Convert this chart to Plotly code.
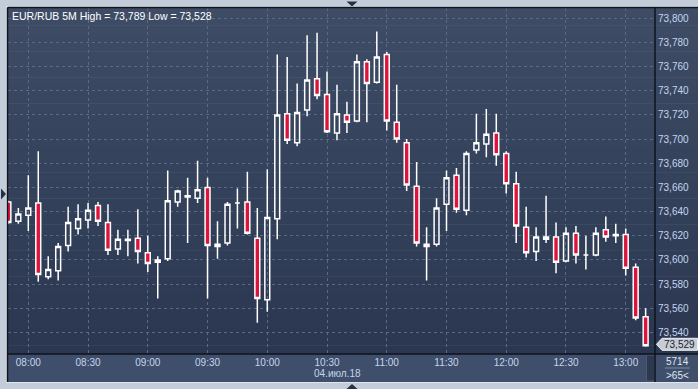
import pandas as pd
import plotly.graph_objects as go

# ---- data (EUR/RUB 5M, 04.07.2018) ----
times = pd.date_range("2018-07-04 07:50", "2018-07-04 13:10", freq="5min")
opens = [73.648, 73.632, 73.637, 73.647, 73.586, 73.591, 73.612, 73.626, 73.633, 73.645,
         73.631, 73.609, 73.616, 73.618, 73.606, 73.598, 73.601, 73.648, 73.652, 73.651,
         73.660, 73.611, 73.614, 73.647, 73.648, 73.618, 73.567, 73.634, 73.721, 73.697,
         73.724, 73.750, 73.737, 73.705, 73.720, 73.715, 73.764, 73.747, 73.770, 73.714,
         73.697, 73.661, 73.613, 73.613, 73.646, 73.670, 73.641, 73.691, 73.696, 73.705,
         73.688, 73.663, 73.627, 73.607, 73.619, 73.619, 73.599, 73.622, 73.604, 73.604,
         73.625, 73.621, 73.621, 73.594, 73.553]
highs = [73.649, 73.643, 73.670, 73.690, 73.603, 73.614, 73.644, 73.646, 73.647, 73.648,
         73.646, 73.625, 73.625, 73.642, 73.620, 73.603, 73.674, 73.658, 73.668, 73.682,
         73.668, 73.632, 73.648, 73.659, 73.673, 73.643, 73.675, 73.770, 73.768, 73.746,
         73.786, 73.788, 73.756, 73.745, 73.731, 73.770, 73.766, 73.789, 73.772, 73.745,
         73.700, 73.681, 73.627, 73.651, 73.674, 73.676, 73.690, 73.721, 73.725, 73.721,
         73.690, 73.673, 73.644, 73.627, 73.653, 73.631, 73.627, 73.628, 73.620, 73.627,
         73.636, 73.630, 73.626, 73.597, 73.560]
lows = [73.630, 73.630, 73.624, 73.582, 73.584, 73.583, 73.607, 73.621, 73.626, 73.628,
        73.604, 73.604, 73.603, 73.597, 73.590, 73.568, 73.599, 73.644, 73.614, 73.647,
        73.568, 73.601, 73.612, 73.626, 73.621, 73.548, 73.557, 73.617, 73.696, 73.694,
        73.719, 73.733, 73.705, 73.699, 73.705, 73.714, 73.714, 73.746, 73.707, 73.697,
        73.657, 73.611, 73.583, 73.611, 73.624, 73.639, 73.637, 73.688, 73.685, 73.678,
        73.655, 73.614, 73.602, 73.599, 73.614, 73.589, 73.598, 73.597, 73.592, 73.603,
        73.615, 73.614, 73.587, 73.550, 73.528]
closes = [73.631, 73.638, 73.643, 73.588, 73.592, 73.611, 73.631, 73.634, 73.641, 73.632,
          73.608, 73.617, 73.617, 73.607, 73.597, 73.600, 73.649, 73.657, 73.653, 73.658,
          73.612, 73.613, 73.646, 73.647, 73.622, 73.568, 73.635, 73.720, 73.699, 73.722,
          73.749, 73.736, 73.706, 73.721, 73.714, 73.764, 73.746, 73.768, 73.715, 73.700,
          73.662, 73.614, 73.611, 73.643, 73.668, 73.642, 73.688, 73.697, 73.704, 73.687,
          73.663, 73.628, 73.606, 73.619, 73.617, 73.598, 73.622, 73.604, 73.604, 73.622,
          73.619, 73.620, 73.593, 73.552, 73.529]
y_ticks = [73.54, 73.56, 73.58, 73.60, 73.62, 73.64, 73.66, 73.68, 73.70, 73.72, 73.74, 73.76, 73.78, 73.80]
title_text = "EUR/RUB 5M High = 73,789 Low = 73,528"
date_text = "04.июл.18"
last_price = "73,529"
counter_top, counter_bottom = "5714", ">65<"

# ---- geometry helpers (pixel -> paper) ----
W, H = 698, 389
L, R, T, B = 8, 43, 8, 35
PW, PH = W - L - R, H - T - B


def px(x):
    return (x - L) / PW


def py(y):
    return (H - B - y) / PH


shapes = []
# gradient background of chart + price panel
n = 40
top_c, bot_c = (62, 76, 102), (43, 55, 81)
for i in range(n):
    y0 = 8 + (354 - 8) * i / n
    y1 = 8 + (354 - 8) * (i + 1) / n
    t = (i + 0.5) / n
    c = tuple(round(top_c[k] + (bot_c[k] - top_c[k]) * t) for k in range(3))
    shapes.append(dict(type="rect", xref="paper", yref="paper", layer="below",
                       x0=px(8), x1=px(699), y0=py(y1 + 0.5), y1=py(y0),
                       fillcolor="rgb(%d,%d,%d)" % c, line=dict(width=0)))
# time axis panel
shapes.append(dict(type="rect", xref="paper", yref="paper", layer="below",
                   x0=px(8), x1=px(699), y0=py(382), y1=py(354),
                   fillcolor="#3f4e6a", line=dict(width=0)))
# small dark strip at end of time panel
shapes.append(dict(type="rect", xref="paper", yref="paper", layer="below",
                   x0=px(646.5), x1=px(654.5), y0=py(381), y1=py(355),
                   fillcolor="#2c384f", line=dict(color="#4b5a73", width=1)))
# frame lines
line_dark = "#0e131c"
shapes += [
    dict(type="line", xref="paper", yref="paper", x0=px(6.5), x1=px(699), y0=py(6.5), y1=py(6.5),
         line=dict(color="#e6ecf3", width=1)),
    dict(type="line", xref="paper", yref="paper", x0=px(6.5), x1=px(6.5), y0=py(6.5), y1=py(382.5),
         line=dict(color="#e6ecf3", width=1)),
    dict(type="line", xref="paper", yref="paper", x0=px(6.5), x1=px(699), y0=py(382.5), y1=py(382.5),
         line=dict(color="#dfe6ee", width=1)),
    dict(type="line", xref="paper", yref="paper", x0=px(7.5), x1=px(699), y0=py(7.5), y1=py(7.5),
         line=dict(color=line_dark, width=1.5)),
    dict(type="line", xref="paper", yref="paper", x0=px(7.5), x1=px(7.5), y0=py(7.5), y1=py(382),
         line=dict(color=line_dark, width=1.5)),
    dict(type="line", xref="paper", yref="paper", x0=px(7.5), x1=px(699), y0=py(354), y1=py(354),
         line=dict(color=line_dark, width=1.5)),
    dict(type="line", xref="paper", yref="paper", x0=px(655), x1=px(655), y0=py(7.5), y1=py(382),
         line=dict(color=line_dark, width=1.5)),
]
# navigation triangles
tri = "#243044"
def path(points):
    s = "M " + " L ".join("%f,%f" % (px(a), py(b)) for a, b in points) + " Z"
    return s
shapes.append(dict(type="path", xref="paper", yref="paper", path=path([(346.5, 1.5), (357.5, 1.5), (352, 6.5)]),
                   fillcolor=tri, line=dict(width=0)))
shapes.append(dict(type="path", xref="paper", yref="paper", path=path([(1, 188.5), (1, 199.5), (6, 194)]),
                   fillcolor=tri, line=dict(width=0)))
shapes.append(dict(type="path", xref="paper", yref="paper", path=path([(346.5, 389), (357.5, 389), (352, 384)]),
                   fillcolor=tri, line=dict(width=0)))
# last price label
shapes.append(dict(type="path", xref="paper", yref="paper",
                   path=path([(656.5, 344.3), (662, 338.3), (697.5, 338.3), (697.5, 350.3), (662, 350.3)]),
                   fillcolor="#c7ccd4", line=dict(color="#eef1f5", width=1)))
# counter separator line
shapes.append(dict(type="line", xref="paper", yref="paper", x0=px(665), x1=px(690), y0=py(368), y1=py(368),
                   line=dict(color="#7e8ca4", width=1)))

fig = go.Figure(go.Candlestick(
    x=times, open=opens, high=highs, low=lows, close=closes,
    increasing=dict(line=dict(color="white", width=1.5), fillcolor="rgba(0,0,0,0)"),
    decreasing=dict(line=dict(color="white", width=1.5), fillcolor="#dc143c"),
    whiskerwidth=0, hoverinfo="skip", showlegend=False,
))

lab_col = "#c6d5ec"
font_name = "Liberation Sans, Arial, sans-serif"
fig.update_layout(
    width=W, height=H,
    margin=dict(l=L, r=R, t=T, b=B),
    paper_bgcolor="#c3cdd9",
    plot_bgcolor="rgba(0,0,0,0)",
    separators=", ",
    boxgap=0.3,
    shapes=shapes,
    font=dict(family=font_name, size=10, color=lab_col),
    xaxis=dict(
        type="date", rangeslider=dict(visible=False),
        range=["2018-07-04 07:49:48", "2018-07-04 13:14:42"],
        tick0="2018-07-04 08:00", dtick=1800000, tickformat="%H:%M",
        showgrid=True, gridcolor="#5b6985", griddash="3px,3px", gridwidth=1,
        zeroline=False, showline=False, ticks="", ticklabelstandoff=1,
        tickfont=dict(family=font_name, size=10, color=lab_col),
        fixedrange=True,
    ),
    yaxis=dict(
        side="right", range=[73.5221, 73.8085],
        tickvals=y_ticks, tickformat=".3f",
        showgrid=True, gridcolor="#5b6985", griddash="3px,3px", gridwidth=1,
        zeroline=False, showline=False, ticks="", ticklabelstandoff=2,
        tickfont=dict(family=font_name, size=10, color=lab_col),
        fixedrange=True,
    ),
    annotations=[
        dict(text=title_text, xref="paper", yref="paper", x=px(9.5), y=py(15.5),
             xanchor="left", yanchor="middle", showarrow=False,
             font=dict(family=font_name, size=10.5, color="white")),
        dict(text=date_text, xref="paper", yref="paper", x=px(337.7), y=py(373.7),
             xanchor="center", yanchor="middle", showarrow=False,
             font=dict(family=font_name, size=10, color=lab_col)),
        dict(text=last_price, xref="paper", yref="paper", x=px(679.5), y=py(344.5),
             xanchor="center", yanchor="middle", showarrow=False,
             font=dict(family=font_name, size=10, color="#1b2232")),
        dict(text=counter_top, xref="paper", yref="paper", x=px(677), y=py(361.5),
             xanchor="center", yanchor="middle", showarrow=False,
             font=dict(family=font_name, size=10, color="#dfe7f3")),
        dict(text=counter_bottom, xref="paper", yref="paper", x=px(677), y=py(375),
             xanchor="center", yanchor="middle", showarrow=False,
             font=dict(family=font_name, size=10, color="#dfe7f3")),
    ],
)

fig.write_html("out.html")
